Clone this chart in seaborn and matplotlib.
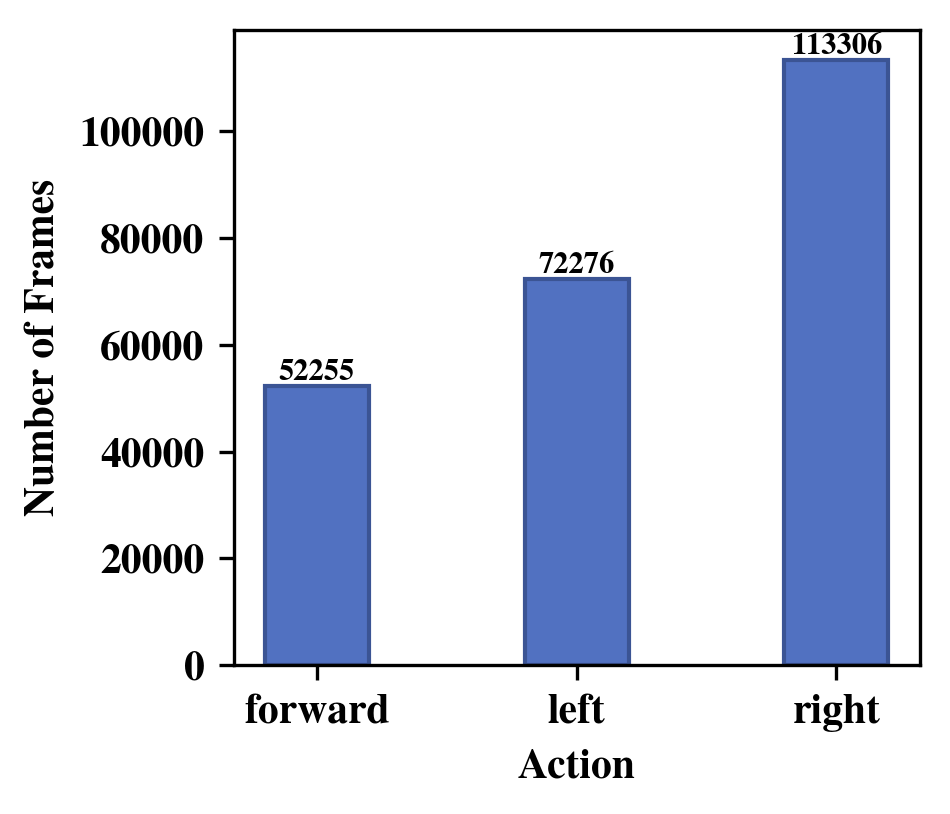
import matplotlib
matplotlib.use("Agg")
import matplotlib.pyplot as plt
import seaborn as sns
import pandas as pd

actions = ["forward", "left", "right"]
frames = [52255, 72276, 113306]

sns.set_style("ticks")
plt.rcParams['font.family'] = ['TeX Gyre Termes', 'Liberation Serif', 'DejaVu Serif']
plt.rcParams['font.weight'] = 'bold'
plt.rcParams['axes.labelweight'] = 'bold'
plt.rcParams['text.color'] = 'black'
plt.rcParams['axes.labelcolor'] = 'black'
plt.rcParams['xtick.color'] = 'black'
plt.rcParams['ytick.color'] = 'black'

df = pd.DataFrame({"Action": actions, "Frames": frames})

fig, ax = plt.subplots(figsize=(950 / 300, 814 / 300), dpi=300)
sns.barplot(data=df, x="Action", y="Frames", color="#5171c1", saturation=1,
            width=0.4, edgecolor="#3b5494", linewidth=1.0, ax=ax)

for c in ax.containers:
    ax.bar_label(c, fmt="%d", fontsize=7.3, fontweight="bold", padding=0)

# matplotlib default margins around the bars
ax.set_xlim(-0.32, len(actions) - 1 + 0.32)
ax.set_ylim(0, max(frames) * 1.05)

ax.set_xlabel("Action", fontsize=10, fontweight="bold")
ax.set_ylabel("Number of Frames", fontsize=10, fontweight="bold")
ax.tick_params(axis="both", labelsize=10, width=0.8, length=3.5)
for lab in ax.get_xticklabels() + ax.get_yticklabels():
    lab.set_fontweight("bold")
for sp in ax.spines.values():
    sp.set_linewidth(0.8)
    sp.set_color("black")

fig.subplots_adjust(left=0.246, right=0.968, top=0.963, bottom=0.183)
fig.savefig("out.png", dpi=300)
